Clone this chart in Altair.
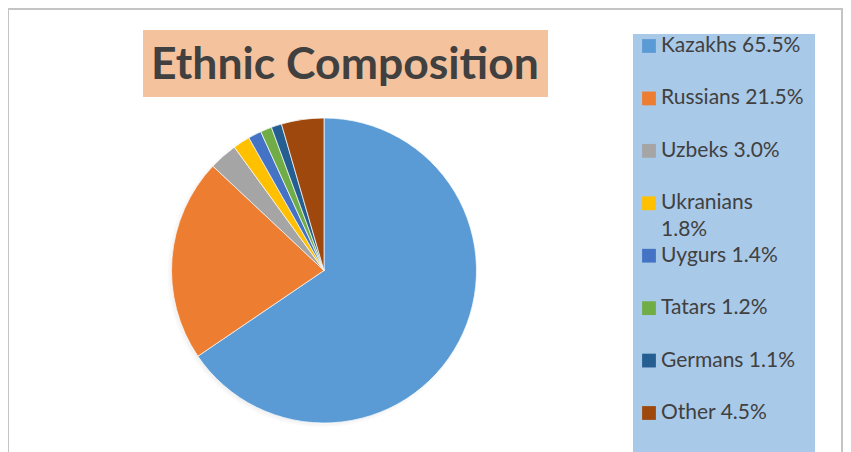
import math
import altair as alt
import pandas as pd

# ---- data ----
categories = ["Kazakhs", "Russians", "Uzbeks", "Ukranians", "Uygurs", "Tatars", "Germans", "Other"]
shares = [65.5, 21.5, 3.0, 1.8, 1.4, 1.2, 1.1, 4.5]
legend_labels = ["Kazakhs 65.5%", "Russians 21.5%", "Uzbeks 3.0%", "Ukranians\n1.8%",
                 "Uygurs 1.4%", "Tatars 1.2%", "Germans 1.1%", "Other 4.5%"]
colors = ["#5B9BD5", "#ED7D31", "#A5A5A5", "#FFC000", "#4472C4", "#70AD47", "#255E91", "#9E480E"]
title_text = "Ethnic Composition"

df = pd.DataFrame({"category": categories, "share": shares,
                   "label": legend_labels, "order": list(range(len(categories)))})

# ---- layout (styling only) ----
W, H = 835, 444
CX, CY, R = 316, 262.5, 152.5
one = pd.DataFrame({"k": [0]})

color = alt.Color("category:N", scale=alt.Scale(domain=categories, range=colors), legend=None)
yscale = alt.Scale(type="point", domain=categories, range=[38, 405], padding=0)

frame_top = alt.Chart(one).mark_rule(color="#C4C4C4", strokeWidth=2).encode(
    x=alt.value(0), x2=alt.value(W), y=alt.value(1))
frame_left = alt.Chart(one).mark_rule(color="#C4C4C4", strokeWidth=2).encode(
    x=alt.value(0), y=alt.value(0), y2=alt.value(H))
frame_right = alt.Chart(one).mark_rule(color="#C4C4C4", strokeWidth=2).encode(
    x=alt.value(W - 1), y=alt.value(0), y2=alt.value(H))

shadow_df = pd.DataFrame({"r": [R + 2 * k for k in range(1, 12)]})
shadow_df["area"] = math.pi * shadow_df["r"] ** 2
shadow = alt.Chart(shadow_df).mark_circle(color="black", opacity=0.018).encode(
    x=alt.value(CX - 2), y=alt.value(CY + 2), size=alt.Size("area:Q", scale=None))

pie = alt.Chart(df).mark_arc(outerRadius=R, stroke="white", strokeWidth=0.7).encode(
    theta=alt.Theta("share:Q", stack=True),
    color=color,
    order=alt.Order("order:Q", sort="ascending"),
    x=alt.value(CX), y=alt.value(CY))

title_box = alt.Chart(one).mark_rect(color="#F5C29E").encode(
    x=alt.value(135), x2=alt.value(540), y=alt.value(22), y2=alt.value(89))
title = alt.Chart(one).mark_text(font="Lato", fontSize=44.5, fontWeight="bold", color="#404040",
                                 align="center", baseline="alphabetic").encode(
    x=alt.value(337), y=alt.value(71), text=alt.value(title_text))

legend_box = alt.Chart(one).mark_rect(color="#A9C9E8").encode(
    x=alt.value(625), x2=alt.value(807), y=alt.value(26), y2=alt.value(H))
legend_sym = alt.Chart(df).mark_square(size=190, opacity=1).encode(
    x=alt.value(641), y=alt.Y("category:N", scale=yscale, axis=None), color=color)
legend_txt = alt.Chart(df).mark_text(align="left", baseline="middle", font="Lato", fontSize=21,
                                     color="#404040", lineBreak="\n", lineHeight=27).encode(
    x=alt.value(653), y=alt.Y("category:N", scale=yscale, axis=None), text="label:N")

chart = alt.layer(
    shadow, pie, title_box, title, legend_box, legend_sym, legend_txt,
    frame_top, frame_left, frame_right
).properties(
    width=W, height=H, padding=0, autosize="none", background="white"
).configure_view(stroke=None)

chart.save("out.html", embed_options={"renderer": "svg", "actions": False})
